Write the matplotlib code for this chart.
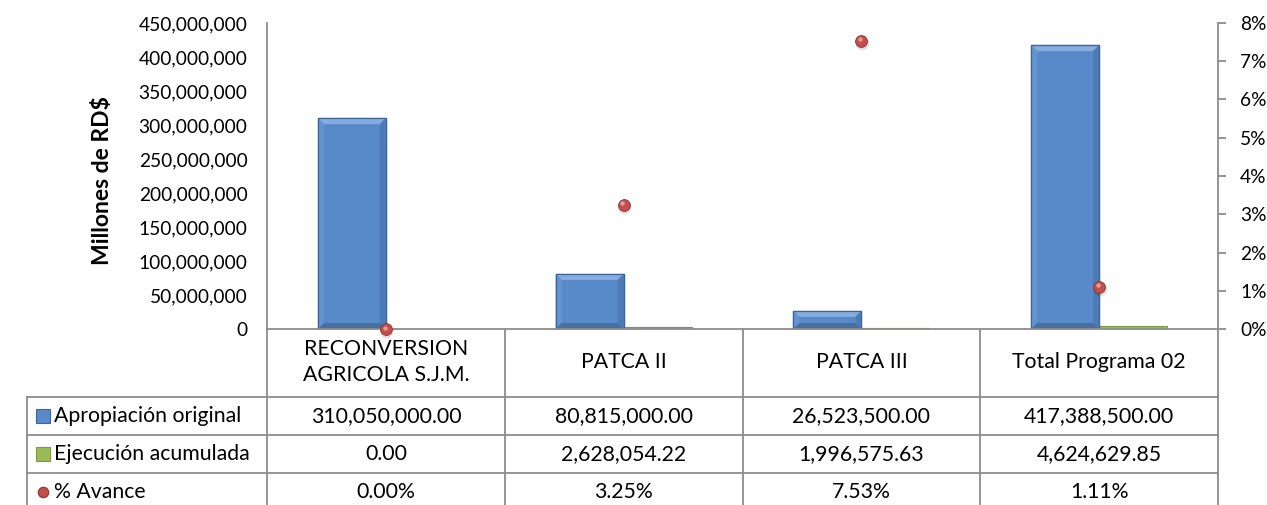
import matplotlib
matplotlib.use("Agg")
import matplotlib.pyplot as plt
from matplotlib.ticker import FuncFormatter, MultipleLocator
from matplotlib.patches import Polygon
from matplotlib.transforms import ScaledTranslation

plt.rcParams['font.family'] = ['Lato', 'DejaVu Sans']

categories = ["RECONVERSION\nAGRICOLA S.J.M.", "PATCA II", "PATCA III", "Total Programa 02"]
apropiacion = [310050000.00, 80815000.00, 26523500.00, 417388500.00]
ejecucion = [0.00, 2628054.22, 1996575.63, 4624629.85]
avance = [0.0000, 0.0325, 0.0753, 0.0111]
series_names = ["Apropiación original", "Ejecución acumulada", "% Avance"]

W, H = 1267, 505
fig = plt.figure(figsize=(W / 100, H / 100), dpi=100)

# plot area in pixels
L, R, T, B = 267, 1218, 23, 329
ax = fig.add_axes([L / W, (H - B) / H, (R - L) / W, (B - T) / H])
ax2 = ax.twinx()

blue = '#5889C9'
blue_edge = '#3E659A'
green = '#9BBB59'
red = '#C0504D'
grid_col = '#8C8C8C'

n = len(categories)
bw = 1 / 3.5
xs = [i + 0.5 for i in range(n)]
YMAX = 450e6
bars = ax.bar([x - bw / 2 for x in xs], apropiacion, width=bw, color=blue,
              edgecolor=blue_edge, linewidth=0.9, zorder=3)
ax.bar([x + bw / 2 for x in xs], ejecucion, width=bw, color=green,
       edgecolor='#7A9A40', linewidth=0.8, zorder=3)
ax.set_xlim(0, n)
ax.set_ylim(0, YMAX)

# bevel shading on the blue bars (derived from each bar's geometry)
px_x = n / (R - L)
px_y = YMAX / (B - T)
bev = 6
for r in bars:
    x0, y0 = r.get_x(), r.get_y()
    x1, y1 = x0 + r.get_width(), y0 + r.get_height()
    bx = min(bev * px_x, r.get_width() / 2)
    by = min(bev * px_y, r.get_height() / 2)
    top = Polygon([(x0, y1), (x1, y1), (x1 - bx, y1 - by), (x0 + bx, y1 - by)],
                  closed=True, fc='#84ACDF', ec='none', zorder=4)
    right = Polygon([(x1, y1), (x1, y0), (x1 - bx, y0 + by), (x1 - bx, y1 - by)],
                    closed=True, fc='#4E7BB5', ec='none', zorder=4)
    left = Polygon([(x0, y1), (x0, y0), (x0 + bx, y0 + by), (x0 + bx, y1 - by)],
                   closed=True, fc='#6494D0', ec='none', zorder=4)
    bot = Polygon([(x0, y0), (x1, y0), (x1 - bx, y0 + by), (x0 + bx, y0 + by)],
                  closed=True, fc='#46709F', ec='none', zorder=4)
    for p in (top, right, left, bot):
        ax.add_patch(p)
    ax.add_patch(plt.Rectangle((x0, y0), x1 - x0, y1 - y0, fc='none',
                               ec=blue_edge, lw=0.9, zorder=5))

ax.yaxis.set_major_locator(MultipleLocator(50e6))
ax.yaxis.set_major_formatter(FuncFormatter(lambda v, p: f"{v:,.0f}"))
ax.tick_params(axis='y', length=0, pad=14, labelsize=13.8)
ax.set_xticks([])
for s in ['top', 'right']:
    ax.spines[s].set_visible(False)
ax.spines['left'].set_color(grid_col)
ax.spines['bottom'].set_color(grid_col)
ax.spines['left'].set_linewidth(1.3)
ax.spines['bottom'].set_linewidth(1.3)
ax.spines['bottom'].set_zorder(6)
ax.set_ylabel("Millones de RD$", fontsize=16.5, fontweight='bold')
ax.yaxis.set_label_coords(-(L - 113) / (R - L), (B - 181) / (B - T))

# shadow + sphere markers
shadow_tr = ax2.transData + ScaledTranslation(0.5 / 100, -2.0 / 100, fig.dpi_scale_trans)
ax2.scatter(xs, avance, s=95, color='#000000', alpha=0.12, linewidth=0,
            zorder=4, clip_on=False, transform=shadow_tr)
ax2.scatter(xs, avance, s=72, color=red, edgecolor='#8E2F2C', linewidth=0.6, zorder=5, clip_on=False)
hl_tr = ax2.transData + ScaledTranslation(-1.2 / 100, 1.5 / 100, fig.dpi_scale_trans)
ax2.scatter(xs, avance, s=10, color='#E39B99', linewidth=0, zorder=6, clip_on=False,
            transform=hl_tr)
ax2.set_ylim(0, 0.08)
ax2.yaxis.set_major_locator(MultipleLocator(0.01))
ax2.yaxis.set_major_formatter(FuncFormatter(lambda v, p: f"{v*100:.0f}%"))
ax2.tick_params(axis='y', length=6, width=1.3, color=grid_col, pad=10, labelsize=13.8)
for s in ['top', 'left', 'bottom']:
    ax2.spines[s].set_visible(False)
ax2.spines['right'].set_color(grid_col)
ax2.spines['right'].set_linewidth(1.3)

# data table overlay (pixel coordinates)
ov = fig.add_axes([0, 0, 1, 1], zorder=-1)
ov.set_xlim(0, W)
ov.set_ylim(H, 0)
ov.axis('off')

rows_y = [329, 397, 435, 473, 511]
TL = 27
lw = 1.3
for y in rows_y[1:4]:
    ov.plot([TL, R], [y, y], color=grid_col, lw=lw)
colw = (R - L) / n
for i in range(n + 1):
    x = L + i * colw
    ov.plot([x, x], [rows_y[0], H], color=grid_col, lw=lw)
ov.plot([TL, TL], [rows_y[1], H], color=grid_col, lw=lw)

fs = 15.3
for i, c in enumerate(categories):
    cx = L + (i + 0.5) * colw
    ov.text(cx, (rows_y[0] + rows_y[1]) / 2 - 1, c, ha='center', va='center',
            fontsize=fs, linespacing=1.4)
    ov.text(cx, (rows_y[1] + rows_y[2]) / 2, f"{apropiacion[i]:,.2f}",
            ha='center', va='center', fontsize=fs)
    ov.text(cx, (rows_y[2] + rows_y[3]) / 2, f"{ejecucion[i]:,.2f}",
            ha='center', va='center', fontsize=fs)
    ov.text(cx, (rows_y[3] + rows_y[4]) / 2, f"{avance[i]*100:.2f}%",
            ha='center', va='center', fontsize=fs)

marker_styles = [('s', blue, blue_edge, 10), ('s', green, '#7A9A40', 10), ('o', red, '#8E2F2C', 7.5)]
for j, name in enumerate(series_names):
    yc = (rows_y[j + 1] + rows_y[j + 2]) / 2
    m, fc, ec, ms = marker_styles[j]
    ov.plot([43], [yc], marker=m, ms=ms, mfc=fc, mec=ec, mew=0.8, ls='none')
    ov.text(54, yc, name, ha='left', va='center', fontsize=fs)

fig.savefig("out.png", dpi=100)
